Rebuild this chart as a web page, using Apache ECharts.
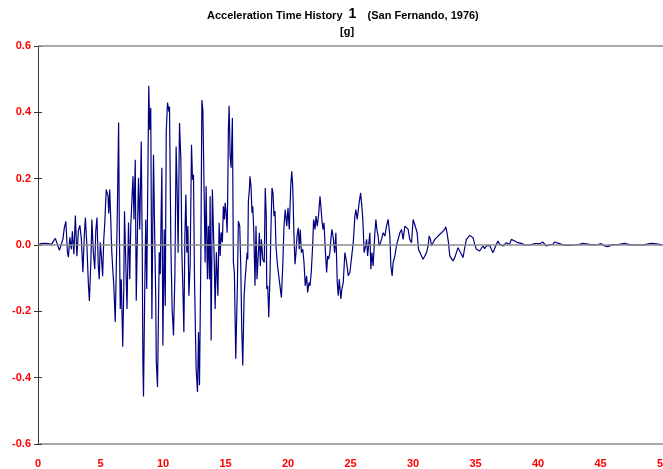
<!DOCTYPE html>
<html>
<head>
<meta charset="utf-8">
<script src="https://cdn.jsdelivr.net/npm/echarts@6/dist/echarts.min.js"></script>
<style>
  html, body { margin: 0; padding: 0; background: #fff; }
  #chart { width: 663px; height: 469px; }
</style>
</head>
<body>
<div id="chart"></div>
<script>
// time (s) and acceleration (g)
const times = [
  0.00, 0.19, 0.51, 0.83, 1.07, 1.23, 1.39, 1.55, 1.71, 1.87, 1.99, 2.11, 2.23, 2.35, 2.43, 2.55, 2.67, 2.75, 2.87, 2.99,
  3.11, 3.23, 3.35, 3.47, 3.59, 3.71, 3.79, 3.91, 4.03, 4.11, 4.23, 4.31, 4.42, 4.54, 4.62, 4.72, 4.82, 4.90, 4.98, 5.06,
  5.17, 5.26, 5.34, 5.46, 5.54, 5.60, 5.66, 5.74, 5.82, 5.90, 5.98, 6.06, 6.18, 6.26, 6.34, 6.45, 6.50, 6.58, 6.66, 6.78,
  6.86, 6.92, 7.02, 7.12, 7.24, 7.34, 7.42, 7.60, 7.68, 7.78, 7.86, 7.96, 8.04, 8.14, 8.26, 8.34, 8.39, 8.44, 8.54, 8.62,
  8.70, 8.86, 8.94, 9.02, 9.11, 9.24, 9.34, 9.42, 9.46, 9.56, 9.70, 9.78, 9.86, 9.91, 9.99, 10.10, 10.18, 10.26, 10.36, 10.47,
  10.52, 10.63, 10.73, 10.84, 10.95, 11.05, 11.13, 11.21, 11.32, 11.43, 11.51, 11.59, 11.67, 11.75, 11.83, 11.91, 11.99, 12.07, 12.17, 12.28,
  12.36, 12.44, 12.52, 12.65, 12.76, 12.84, 12.92, 13.03, 13.11, 13.19, 13.29, 13.37, 13.45, 13.55, 13.63, 13.71, 13.77, 13.85, 13.95, 14.11,
  14.17, 14.27, 14.39, 14.49, 14.57, 14.65, 14.75, 14.83, 14.91, 14.97, 15.05, 15.13, 15.18, 15.23, 15.29, 15.37, 15.45, 15.55, 15.63, 15.71,
  15.82, 15.95, 16.03, 16.14, 16.22, 16.30, 16.38, 16.49, 16.57, 16.65, 16.73, 16.78, 16.83, 16.91, 16.96, 17.04, 17.12, 17.18, 17.26, 17.36,
  17.44, 17.52, 17.63, 17.71, 17.79, 17.87, 17.98, 18.10, 18.18, 18.26, 18.30, 18.38, 18.46, 18.56, 18.64, 18.72, 18.80, 18.88, 18.96, 19.04,
  19.15, 19.26, 19.36, 19.47, 19.58, 19.68, 19.78, 19.90, 20.00, 20.10, 20.22, 20.30, 20.38, 20.48, 20.56, 20.64, 20.72, 20.82, 20.90, 20.98,
  21.07, 21.18, 21.28, 21.38, 21.49, 21.57, 21.68, 21.76, 21.86, 21.97, 22.05, 22.16, 22.24, 22.34, 22.45, 22.56, 22.64, 22.72, 22.80, 22.88,
  22.98, 23.09, 23.17, 23.25, 23.35, 23.43, 23.51, 23.62, 23.73, 23.83, 23.94, 24.02, 24.10, 24.23, 24.31, 24.42, 24.55, 24.69, 24.82, 24.95,
  25.09, 25.22, 25.35, 25.43, 25.54, 25.69, 25.81, 25.89, 25.95, 26.01, 26.09, 26.21, 26.29, 26.37, 26.47, 26.55, 26.63, 26.71, 26.81, 26.95,
  27.03, 27.11, 27.21, 27.29, 27.40, 27.48, 27.61, 27.75, 27.88, 28.01, 28.15, 28.23, 28.33, 28.41, 28.55, 28.63, 28.73, 28.81, 28.95, 29.08,
  29.21, 29.35, 29.48, 29.61, 29.74, 29.88, 30.01, 30.09, 30.22, 30.33, 30.44, 30.54, 30.68, 30.81, 30.94, 31.08, 31.21, 31.29, 31.40, 31.48,
  31.61, 31.74, 31.88, 32.00, 32.14, 32.28, 32.41, 32.54, 32.62, 32.72, 32.84, 32.94, 33.08, 33.20, 33.34, 33.47, 33.60, 33.74, 33.87, 34.00,
  34.14, 34.27, 34.40, 34.54, 34.67, 34.80, 34.94, 35.07, 35.20, 35.33, 35.47, 35.60, 35.73, 35.87, 36.00, 36.13, 36.27, 36.40, 36.53, 36.67,
  36.80, 36.93, 37.07, 37.20, 37.33, 37.47, 37.60, 37.73, 37.87, 38.00, 38.13, 38.27, 38.39, 38.53, 38.67, 38.79, 38.94, 39.34, 39.74, 40.14,
  40.39, 40.66, 40.77, 40.93, 41.19, 41.32, 41.46, 41.72, 42.12, 42.52, 42.92, 43.32, 43.46, 43.59, 44.12, 44.66, 45.06, 45.32, 45.58, 45.98,
  46.52, 46.92, 47.32, 47.85, 48.38, 48.92, 49.18, 49.71, 49.95
];
const accel = [
  0.000, 0.004, 0.005, 0.004, 0.001, 0.011, 0.020, 0.014, -0.016, -0.022, 0.017, 0.053, 0.071, -0.019, -0.037, 0.023, -0.013, 0.041, -0.028, 0.089,
  -0.034, 0.044, 0.059, 0.017, -0.082, 0.032, 0.083, -0.001, -0.118, -0.169, -0.049, 0.077, -0.019, -0.073, 0.041, 0.083, -0.061, -0.103, 0.008, -0.028,
  -0.094, 0.017, 0.065, 0.167, 0.173, 0.149, 0.095, 0.167, 0.077, -0.019, -0.073, -0.118, -0.232, -0.073, 0.083, 0.369, 0.077, -0.193, -0.103, -0.307,
  -0.133, 0.102, -0.049, -0.193, 0.068, -0.103, 0.056, 0.207, 0.077, 0.257, -0.168, 0.047, 0.203, 0.047, 0.312, -0.013, -0.352, -0.457, -0.133, 0.077,
  -0.133, 0.480, 0.347, 0.414, -0.223, 0.272, 0.017, -0.163, -0.349, -0.428, -0.022, -0.088, 0.117, 0.233, -0.303, 0.047, -0.183, 0.342, 0.429, 0.402,
  0.417, -0.003, -0.193, -0.273, -0.093, 0.297, 0.167, -0.023, 0.368, 0.257, -0.023, -0.133, -0.263, 0.027, 0.152, -0.023, 0.057, -0.153, -0.063, 0.302,
  0.197, 0.212, -0.103, -0.373, -0.443, -0.263, -0.423, -0.023, 0.437, 0.407, 0.157, -0.053, 0.177, -0.103, 0.057, -0.103, 0.147, -0.288, 0.167, -0.063,
  -0.193, -0.022, -0.153, 0.067, -0.033, 0.038, 0.008, 0.117, 0.077, 0.127, 0.097, 0.037, 0.158, 0.347, 0.420, 0.267, 0.233, 0.383, -0.052, -0.082,
  -0.343, -0.123, 0.072, 0.057, -0.063, -0.253, -0.363, -0.153, -0.103, -0.063, -0.023, -0.043, 0.132, 0.167, 0.207, 0.177, 0.097, 0.117, 0.047, -0.123,
  0.057, -0.103, -0.023, 0.037, -0.063, 0.017, -0.043, -0.053, 0.172, 0.087, -0.133, -0.123, -0.218, -0.093, 0.057, 0.172, 0.157, 0.087, 0.102, -0.003,
  -0.058, -0.093, -0.093, -0.158, -0.063, 0.057, 0.107, 0.057, 0.112, 0.047, 0.177, 0.222, 0.177, 0.027, -0.058, -0.023, 0.027, 0.052, -0.013, 0.047,
  -0.023, -0.013, -0.053, -0.123, -0.093, -0.143, -0.113, -0.123, -0.083, -0.003, 0.077, 0.047, 0.087, 0.057, 0.092, 0.147, 0.112, 0.072, 0.047, 0.067,
  -0.013, -0.083, -0.033, -0.043, -0.023, 0.017, 0.047, 0.022, -0.023, 0.037, -0.113, -0.153, -0.103, -0.163, -0.133, -0.113, -0.023, -0.053, -0.093, -0.083,
  -0.083, 0.007, 0.087, 0.107, 0.077, 0.127, 0.157, 0.162, 0.097, 0.057, -0.023, -0.003, 0.017, -0.033, 0.007, 0.037, -0.073, -0.023, -0.063, 0.037,
  0.077, 0.047, 0.027, -0.003, 0.007, 0.017, 0.037, 0.027, 0.057, 0.077, 0.027, -0.063, -0.093, -0.053, -0.033, -0.013, 0.007, 0.017, 0.037, 0.047,
  0.017, 0.057, 0.062, 0.047, 0.017, 0.007, 0.077, 0.072, 0.052, 0.037, -0.013, -0.013, -0.033, -0.043, -0.033, -0.023, -0.003, 0.027, 0.017, -0.003,
  0.007, 0.017, 0.022, 0.027, 0.032, 0.037, 0.042, 0.047, 0.055, 0.037, 0.007, -0.033, -0.038, -0.048, -0.038, -0.023, -0.008, -0.013, -0.028, -0.038,
  -0.008, 0.017, 0.022, 0.029, 0.027, 0.022, 0.002, -0.013, -0.008, -0.018, -0.013, -0.003, -0.011, -0.003, -0.008, -0.001, -0.013, -0.023, -0.018, 0.002,
  0.012, 0.002, 0.007, -0.003, 0.002, 0.007, 0.002, 0.002, 0.017, 0.019, 0.012, 0.010, 0.007, 0.009, 0.005, -0.001, 0.000, 0.000, 0.004, 0.004,
  0.009, -0.003, -0.005, 0.001, 0.002, 0.009, 0.010, 0.004, -0.001, -0.001, 0.000, 0.002, 0.007, 0.005, 0.002, 0.000, 0.004, -0.003, -0.005, 0.001,
  0.002, 0.005, 0.001, 0.000, 0.000, 0.004, 0.005, 0.002, 0.000
];

const xMin = 0, xMax = 50, xStep = 5;
const yMin = -0.6, yMax = 0.6, yStep = 0.2;

const font = 'Arial, "Liberation Sans", sans-serif';
const labelStyle = { color: '#ff0000', fontWeight: 'bold', fontSize: 11, fontFamily: font };

const myChart = echarts.init(document.getElementById('chart'), null, { renderer: 'canvas' });

myChart.setOption({
  animation: false,
  backgroundColor: '#ffffff',
  grid: { left: 38, right: 0, top: 46, bottom: 25, containLabel: false, outerBoundsMode: 'none' },
  graphic: [
    {
      type: 'text',
      left: 207,
      top: 7,
      style: {
        text: '{a|Acceleration Time History }{b|1}{a|   (San Fernando, 1976)}',
        rich: {
          a: { fontFamily: font, fontWeight: 'bold', fontSize: 11, fill: '#000', verticalAlign: 'bottom' },
          b: { fontFamily: font, fontWeight: 'bold', fontSize: 14, fill: '#000', verticalAlign: 'bottom', padding: [0, 2, 0, 3] }
        }
      }
    },
    {
      type: 'text',
      left: 340,
      top: 26,
      style: { text: '[g]', fontFamily: font, fontWeight: 'bold', fontSize: 11, fill: '#000' }
    }
  ],
  xAxis: {
    type: 'value',
    min: xMin,
    max: xMax,
    interval: xStep,
    axisLine: { onZero: false, lineStyle: { color: '#8c8c8c', width: 1.5 } },
    axisTick: { show: false },
    splitLine: { show: false },
    axisLabel: Object.assign({ margin: 14, formatter: v => String(v) }, labelStyle)
  },
  yAxis: [
    {
      type: 'value',
      min: yMin,
      max: yMax,
      interval: yStep,
      axisLine: { show: true, lineStyle: { color: '#333', width: 1 } },
      axisTick: { show: true, length: 4, lineStyle: { color: '#333' } },
      splitLine: { show: false },
      axisLabel: Object.assign({ margin: 7, formatter: v => v.toFixed(1) }, labelStyle)
    },
    {
      type: 'value',
      position: 'left',
      offset: 0,
      min: yMin,
      max: yMax,
      interval: yStep,
      axisLine: { show: false },
      axisTick: { show: true, inside: true, length: 4, lineStyle: { color: '#333' } },
      axisLabel: { show: false },
      splitLine: { show: false }
    }
  ],
  series: [
    {
      type: 'line',
      yAxisIndex: 0,
      data: times.map((t, i) => [t, accel[i]]),
      showSymbol: false,
      lineStyle: { color: '#000080', width: 1.2 },
      z: 3,
      markLine: {
        silent: true,
        symbol: 'none',
        label: { show: false },
        lineStyle: { color: '#8c8c8c', width: 1.5, type: 'solid' },
        data: [{ yAxis: 0 }, { yAxis: yMax }]
      }
    }
  ]
});
</script>
</body>
</html>
